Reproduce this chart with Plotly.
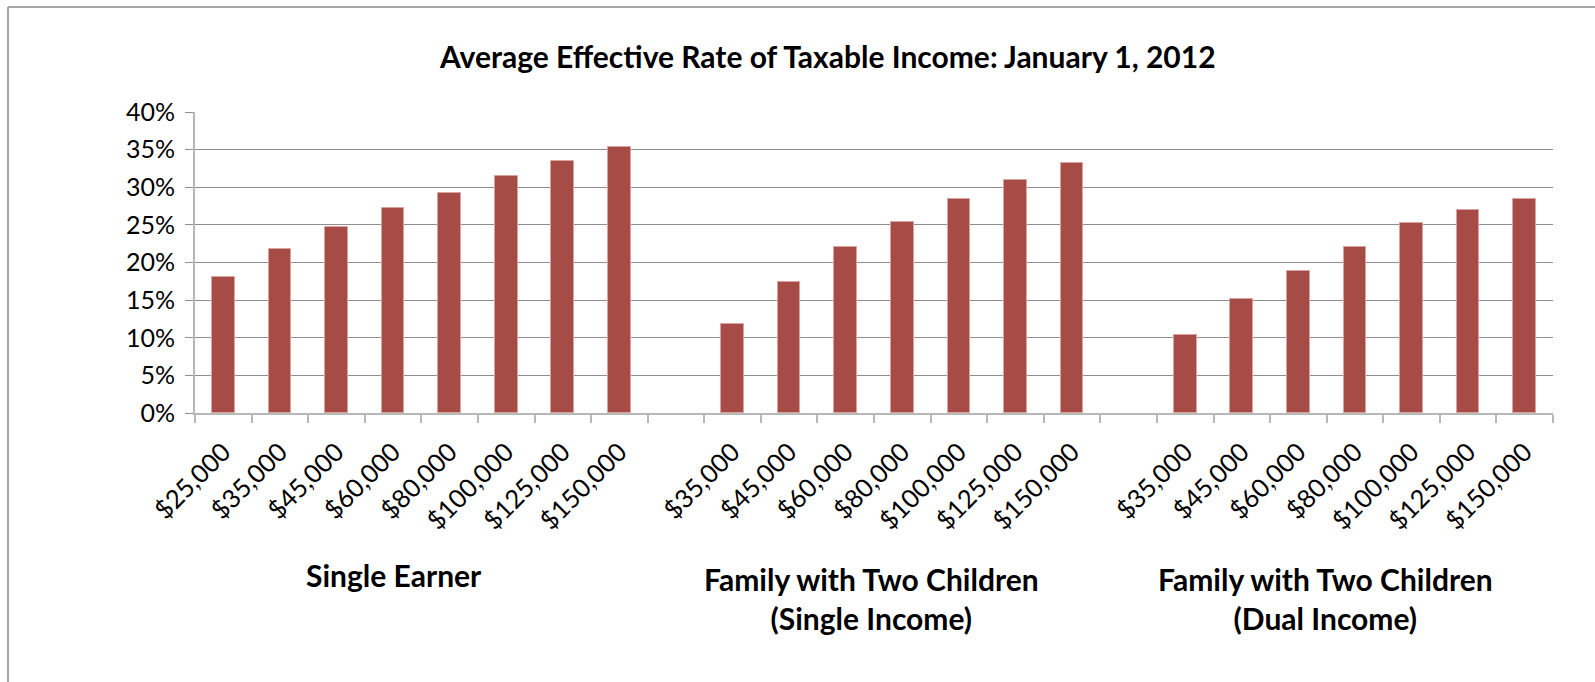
import plotly.graph_objects as go

title = "Average Effective Rate of Taxable Income: January 1, 2012"
groups = ["Single Earner", "Family with Two Children<br>(Single Income)", "Family with Two Children<br>(Dual Income)"]

single_labels = ["$25,000", "$35,000", "$45,000", "$60,000", "$80,000", "$100,000", "$125,000", "$150,000"]
single_values = [18.1, 21.8, 24.7, 27.3, 29.3, 31.5, 33.5, 35.3]

fam_single_labels = ["$35,000", "$45,000", "$60,000", "$80,000", "$100,000", "$125,000", "$150,000"]
fam_single_values = [11.8, 17.4, 22.1, 25.4, 28.4, 31.0, 33.2]

fam_dual_labels = ["$35,000", "$45,000", "$60,000", "$80,000", "$100,000", "$125,000", "$150,000"]
fam_dual_values = [10.4, 15.1, 18.9, 22.0, 25.2, 27.0, 28.4]

# lay out the three groups on one axis with an empty slot between groups
labels = single_labels + [""] + fam_single_labels + [""] + fam_dual_labels
values = single_values + [None] + fam_single_values + [None] + fam_dual_values
xs = list(range(len(labels)))
n = len(labels)

BAR = "#A64B45"
FONT = "Lato"

fig = go.Figure(go.Bar(
    x=xs, y=values, width=0.4,
    marker=dict(color=BAR, line=dict(color="#D9A3A0", width=1)),
    hoverinfo="skip",
))

fig.update_layout(
    width=1595, height=682,
    margin=dict(l=195, r=42, t=112, b=269),
    paper_bgcolor="white", plot_bgcolor="white",
    showlegend=False,
    bargap=0,
    font=dict(family=FONT, color="black"),
    title=dict(text="<b>" + title + "</b>", x=0.519, xanchor="center",
               y=1 - 57 / 682, yanchor="middle", yref="container", xref="container",
               font=dict(size=30, family=FONT, color="black")),
)

fig.update_xaxes(
    range=[-0.5, n - 0.5],
    tickmode="array", tickvals=xs, ticktext=labels,
    tickangle=-45, ticks="", tickfont=dict(size=25.5, family=FONT, color="black"),
    ticklabelstandoff=12,
    showgrid=False, zeroline=False,
    showline=True, linecolor="#b8b8b8", linewidth=2,
    minor=dict(tickmode="array", tickvals=[i - 0.5 for i in range(n + 1)],
               ticks="outside", ticklen=8, tickwidth=2, tickcolor="#b8b8b8", showgrid=False),
)

fig.update_yaxes(
    range=[0, 40], tickmode="array",
    tickvals=[0, 5, 10, 15, 20, 25, 30, 35, 40],
    ticktext=["0%", "5%", "10%", "15%", "20%", "25%", "30%", "35%", "40%"],
    tickfont=dict(size=25, family=FONT, color="black"),
    ticklabelstandoff=5,
    ticks="outside", ticklen=8, tickwidth=1, tickcolor="#8e8e8e",
    showgrid=True, gridcolor="#8e8e8e", gridwidth=1,
    zeroline=False, showline=True, linecolor="#b8b8b8", linewidth=2,
)

plot_top, plot_bot = 112, 413
slot = 1358 / n

def data_x(px):
    return (px - 195) / slot - 0.5

def paper_x(px):
    return (px - 195) / 1358

def paper_y(py):
    return (plot_bot - py) / (plot_bot - plot_top)

# group labels
group_px = [394, 871, 1325]
group_py = [575, 598, 598]
for g, px, py in zip(groups, group_px, group_py):
    fig.add_annotation(
        text="<b>" + g + "</b>", x=data_x(px), xref="x",
        y=paper_y(py), yref="paper",
        showarrow=False, font=dict(size=30, family=FONT, color="black"),
        xanchor="center", yanchor="middle",
    )

# chart-area border (left and top edges)
fig.add_shape(type="line", xref="paper", yref="paper",
              x0=paper_x(8), x1=paper_x(8), y0=paper_y(7), y1=paper_y(700),
              line=dict(color="#a6a6a6", width=2))
fig.add_shape(type="line", xref="paper", yref="paper",
              x0=paper_x(8), x1=paper_x(1600), y0=paper_y(7), y1=paper_y(7),
              line=dict(color="#a6a6a6", width=2))

fig.write_html("out.html")
